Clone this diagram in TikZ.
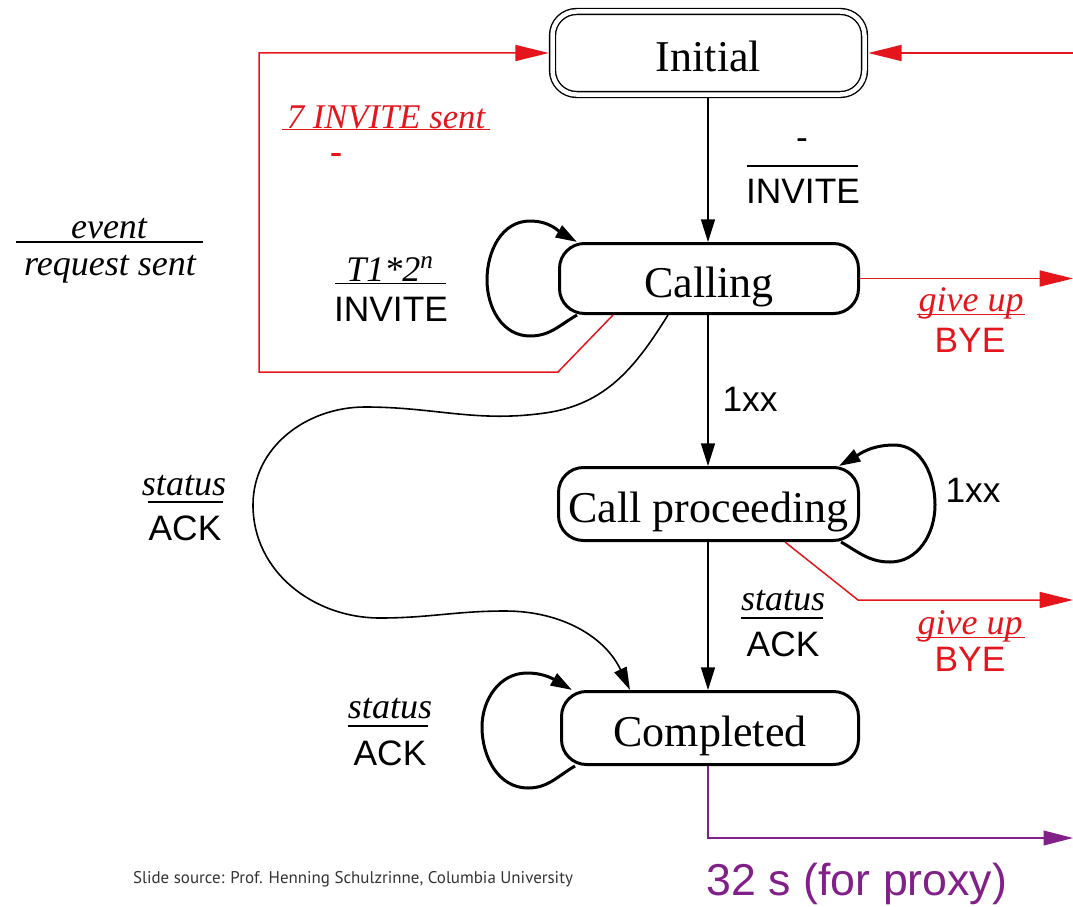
\documentclass[tikz,border=0pt]{standalone}
\usepackage{fontspec}
\setmainfont{Liberation Serif}
\setsansfont{Liberation Sans}
\newfontfamily\notefont{PT Sans}
\usetikzlibrary{arrows.meta}
\newdimen\pxu
\pxu=0.75pt
\definecolor{sipred}{RGB}{228,22,28}
\definecolor{sippurple}{RGB}{128,32,136}

\begin{document}
\begin{tikzpicture}[x=0.75pt,y=-0.75pt,
  state/.style={draw, line width=3\pxu, rounded corners=25\pxu, inner sep=0pt, fill=white,
    text height=27.75pt, text depth=0pt, font=\fontsize{33}{36}\selectfont},
  flow/.style={line width=1.5\pxu, -{Triangle[length=17pt,width=10.5pt]}},
  selfloop/.style={line width=3\pxu, -{Triangle[length=16pt,width=10pt]}},
  wander/.style={line width=1.6\pxu, -{Triangle[length=17pt,width=10pt]}},
  redflow/.style={sipred, line width=1.5\pxu, -{Triangle[length=25pt,width=12pt]}},
  purpleflow/.style={sippurple, line width=1.5\pxu, -{Triangle[length=22pt,width=11pt]}},
  lbl/.style={inner sep=0pt, anchor=base, font=\fontsize{27}{30}\selectfont},
  ital/.style={lbl, font=\fontsize{27}{30}\selectfont\itshape},
  sans/.style={lbl, font=\fontsize{26.5}{30}\selectfont\sffamily},
  fracrule/.style={line width=1.5\pxu},
]
\useasboundingbox (0,0) rectangle (1073,906);

% ---------- states ----------
\node[draw, double, double distance=4.5\pxu, line width=1.4\pxu, rounded corners=24\pxu,
      minimum width=312\pxu, minimum height=83\pxu, inner sep=0pt, outer sep=3.7\pxu,
      text height=27.75pt, text depth=0pt, font=\fontsize{33}{36}\selectfont]
      (Initial) at (708.5,53) {Initial};
\node[state, minimum width=299\pxu, minimum height=70\pxu] (Calling) at (709,278.5) {Calling};
\node[state, minimum width=300\pxu, minimum height=73\pxu] (Proc) at (708.5,504) {Call proceeding};
\node[state, minimum width=297\pxu, minimum height=73\pxu] (Done) at (710,728) {Completed};

% ---------- helper coordinates ----------
\coordinate (vx) at (708,0);
\coordinate (edge) at (1073,0);
\coordinate (cl1) at (530,336);
\coordinate (cl2) at (487,280);
\coordinate (cl3) at (530,221);
\coordinate (pl1) at (890,562);
\coordinate (pl2) at (935,505);
\coordinate (pl3) at (894,445);
\coordinate (dl1) at (528,788);
\coordinate (dl2) at (482,727);
\coordinate (dl3) at (527,673);
\coordinate (wx) at (668,0);
\coordinate (w1) at (545,413);
\coordinate (w2) at (365,407);
\coordinate (w3) at (253,505);
\coordinate (w4) at (380,618);
\coordinate (w5) at (505,611);
\coordinate (rx) at (613,0);
\coordinate (r1) at (558,372);
\coordinate (r2) at (259,372);
\coordinate (r3) at (259,53);
\coordinate (rtop) at (1073,53);
\coordinate (px) at (785,0);
\coordinate (p1) at (858,600);
\coordinate (p2) at (1073,600);
\coordinate (q1) at (708,838);
\coordinate (q2) at (1073,838);

% ---------- main transitions ----------
\draw[flow] (Initial.south -| vx) -- (Calling.north -| vx);
\draw[flow] (Calling.south -| vx) -- (Proc.north -| vx);
\draw[flow] (Proc.south -| vx) -- (Done.north -| vx);

% ---------- self loops ----------
\draw[selfloop] ([xshift=19\pxu]Calling.south west) to[out=210,in=0] (cl1)
  to[out=180,in=-90] (cl2) to[out=90,in=180] (cl3) to[out=0,in=150] ([xshift=19\pxu]Calling.north west);
\draw[selfloop] ([xshift=-19\pxu]Proc.south east) to[out=-30,in=180] (pl1)
  to[out=0,in=-90] (pl2) to[out=90,in=0] (pl3) to[out=180,in=30] ([xshift=-21\pxu]Proc.north east);
\draw[selfloop] ([xshift=15\pxu]Done.south west) to[out=210,in=0] (dl1)
  to[out=180,in=-90] (dl2) to[out=90,in=180] (dl3) to[out=0,in=150] ([xshift=12\pxu]Done.north west);

% ---------- status from Calling straight to Completed ----------
\draw[wander] (Calling.south -| wx) to[out=-122,in=8] (w1) to[out=188,in=0] (w2)
  to[out=180,in=90] (w3) to[out=-90,in=180] (w4) to[out=0,in=180] (w5)
  to[out=0,in=115] ([xshift=70\pxu]Done.north west);

% ---------- retransmission / give up ----------
\draw[redflow] (Calling.south -| rx) -- (r1) -- (r2) -- (r3) -- (Initial.west);
\draw[redflow] (rtop) -- (Initial.east);
\draw[redflow] (Calling.east) -- (Calling.east -| edge);
\draw[redflow] (Proc.south -| px) -- (p1) -- (p2);
\draw[purpleflow] (Done.south -| vx) -- (q1) -- (q2);

% ---------- labels ----------
% legend
\node[ital] (legTop) at (109,238) {event};
\draw[fracrule] (16,242) -- (203,242);
\node[ital] (legBot) at (110,275) {request sent};

% Initial -> Calling
\node[sans] (invTop) at (802,149) {-};
\draw[fracrule] (747,166) -- (858,166);
\node[sans] (invBot) at (803,203) {INVITE};

% Calling retransmission
\node[ital] (t1Top) at (390,281) {T1*2\textsuperscript{n}};
\draw[fracrule] (335,283.5) -- (446,283.5);
\node[sans] (t1Bot) at (391,321) {INVITE};

% red retry limit
\node[ital, text=sipred, font=\fontsize{26}{30}\selectfont\itshape] (retry) at (386,128) {7 INVITE sent};
\draw[sipred, line width=1.3\pxu] (282,129.5) -- (490,129.5);
\node[lbl, text=sipred, font=\fontsize{27}{30}\selectfont\bfseries] (retryBot) at (336,163) {-};

% give up labels
\node[ital, text=sipred] (gu1) at (971,311) {give up};
\draw[sipred, line width=1.3\pxu] (917,314.5) -- (1025,314.5);
\node[sans, text=sipred] (bye1) at (970,352) {BYE};
\node[ital, text=sipred] (gu2) at (970,634) {give up};
\draw[sipred, line width=1.3\pxu] (916,637.5) -- (1025,637.5);
\node[sans, text=sipred] (bye2) at (970,671) {BYE};

% 1xx
\node[sans] (x1) at (750,411) {1xx};
\node[sans] (x2) at (973,502) {1xx};

% status / ACK labels
\node[ital] (stA) at (783,610) {status};
\draw[fracrule] (741,618) -- (823,618);
\node[sans] (ackA) at (783,656) {ACK};

\node[ital] (stB) at (184,495) {status};
\draw[fracrule] (148,502) -- (223,502);
\node[sans] (ackB) at (185,540) {ACK};

\node[ital] (stC) at (390,718) {status};
\draw[fracrule] (348,726) -- (428,726);
\node[sans] (ackC) at (390,765) {ACK};

% timer and source
\node[lbl, text=sippurple, font=\fontsize{33.5}{36}\selectfont\sffamily] (timer) at (857,895) {32 s (for proxy)};
\node[lbl, text=black!80, font=\notefont\fontsize{12.7}{14}\selectfont] (src) at (353,883)
  {Slide source: Prof. Henning Schulzrinne, Columbia University};
\end{tikzpicture}
\end{document}
